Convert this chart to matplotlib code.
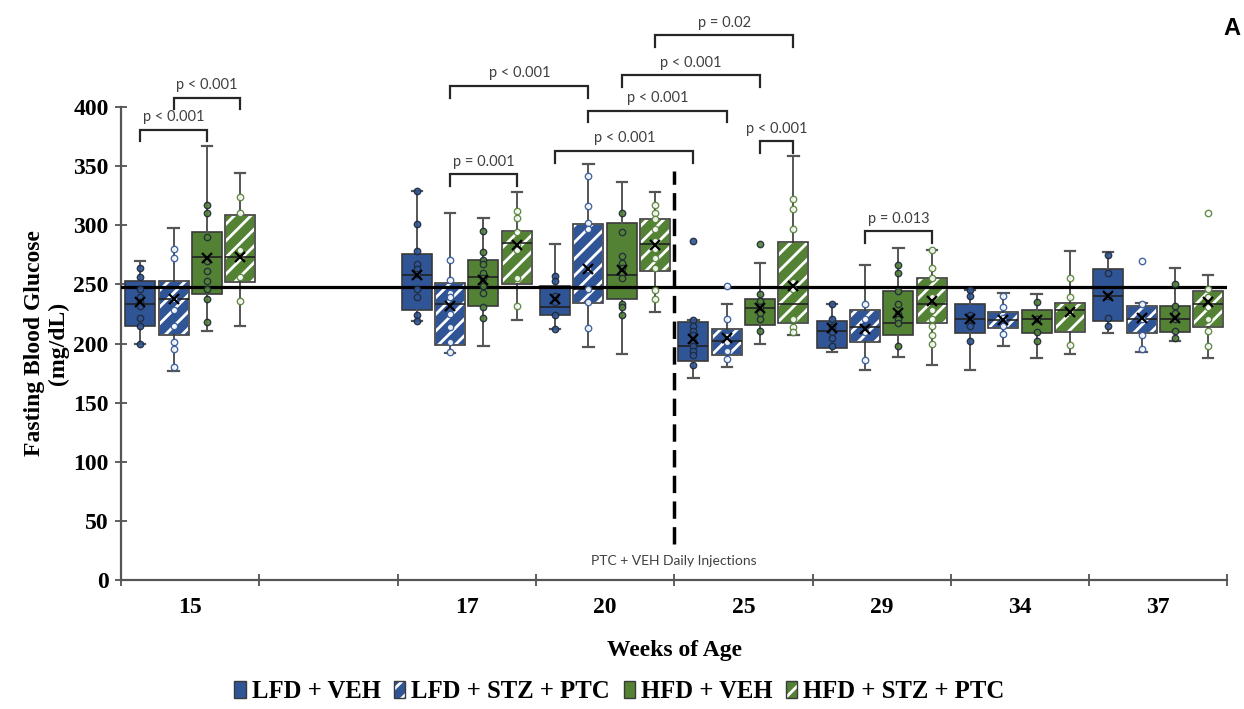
import numpy as np
import matplotlib
matplotlib.use("Agg")
import matplotlib.pyplot as plt
from matplotlib.patches import Patch, PathPatch

# ---- data (mg/dL) ----
weeks = [15, 17, 20, 25, 29, 34, 37]
week_pos = [0, 2, 3, 4, 5, 6, 7]          # an empty slot sits between 15 and 17
groups = ["LFD + VEH", "LFD + STZ + PTC", "HFD + VEH", "HFD + STZ + PTC"]
baseline = 248

# one row per group, one value per week
whislo = [[200, 219, 212, 171, 193, 178, 209],
          [177, 192, 197, 180, 178, 198, 193],
          [211, 198, 191, 200, 189, 188, 202],
          [215, 220, 227, 207, 182, 191, 188]]
q1 = [[215, 228, 224, 185, 196, 209, 219],
      [207, 199, 234, 190, 201, 213, 209],
      [242, 232, 238, 216, 207, 209, 210],
      [252, 250, 261, 217, 217, 210, 214]]
med = [[233, 258, 231, 198, 211, 221, 240],
       [238, 233, 246, 202, 214, 220, 221],
       [273, 256, 258, 230, 217, 221, 221],
       [273, 285, 284, 233, 233, 228, 233]]
q3 = [[253, 276, 249, 218, 219, 233, 263],
      [253, 251, 301, 212, 228, 227, 232],
      [294, 271, 302, 238, 244, 228, 232],
      [309, 295, 305, 286, 255, 234, 244]]
whishi = [[270, 329, 284, 220, 233, 245, 277],
          [298, 310, 352, 233, 266, 243, 234],
          [367, 306, 337, 268, 281, 242, 264],
          [344, 328, 328, 359, 279, 278, 258]]
means = [[235, 258, 238, 204, 213, 221, 240],
         [238, 232, 263, 205, 212, 220, 222],
         [272, 254, 262, 230, 226, 220, 222],
         [273, 283, 283, 249, 236, 227, 235]]

# individual animals, per week (outliers included)
pts_lfd_veh = [[264, 256, 246, 239, 235, 232, 222, 215, 200],
               [329, 301, 278, 267, 263, 259, 246, 239, 224, 219],
               [257, 253, 240, 235, 224, 212],
               [287, 220, 215, 211, 207, 202, 198, 194, 190, 182],
               [233, 221, 214, 210, 205, 198],
               [245, 240, 224, 221, 215, 202],
               [275, 260, 240, 222, 215]]
pts_lfd_stz = [[280, 272, 238, 228, 215, 201, 195, 180],
               [271, 254, 243, 239, 225, 214, 201, 193],
               [342, 316, 302, 297, 263, 246, 235, 213],
               [249, 221, 206, 201, 194, 187],
               [233, 221, 210, 186],
               [240, 231, 222, 215, 208],
               [270, 233, 221, 207, 195]]
pts_hfd_veh = [[317, 310, 290, 270, 261, 253, 246, 238, 218],
               [295, 277, 271, 267, 260, 255, 249, 243, 231, 222],
               [310, 294, 274, 268, 264, 260, 255, 233, 231, 224],
               [284, 242, 236, 231, 226, 221, 211],
               [266, 260, 244, 233, 225, 221, 217, 198],
               [235, 221, 210, 202],
               [250, 232, 226, 221, 211, 205]]
pts_hfd_stz = [[324, 310, 279, 256, 236],
               [312, 306, 294, 283, 279, 255, 232],
               [317, 310, 305, 297, 287, 280, 272, 264, 245, 238],
               [322, 314, 297, 252, 246, 221, 214, 210],
               [279, 264, 255, 239, 228, 221, 215, 207, 200],
               [255, 239, 227, 199],
               [310, 246, 239, 231, 221, 211, 198]]
points = [pts_lfd_veh, pts_lfd_stz, pts_hfd_veh, pts_hfd_stz]

# significance comparisons: (week a, group a, week b, group b, label)
comparisons = [(15, 0, 15, 2, "p < 0.001"),
               (15, 1, 15, 3, "p < 0.001"),
               (17, 1, 17, 3, "p = 0.001"),
               (17, 1, 20, 1, "p < 0.001"),
               (20, 0, 25, 0, "p < 0.001"),
               (20, 1, 25, 1, "p < 0.001"),
               (20, 2, 25, 2, "p < 0.001"),
               (20, 3, 25, 3, "p = 0.02"),
               (25, 2, 25, 3, "p < 0.001"),
               (29, 1, 29, 3, "p = 0.013")]
bracket_y = [381, 408, 343, 418, 363, 397, 427, 461, 371, 295]

# ---- style ----
blue = "#2F5597"
green = "#548235"
colors = [blue, blue, green, green]
hatched = [False, True, False, True]
edge = "#3a3a3a"
serif = "Liberation Serif"
sans = "Lato"
plt.rcParams["hatch.linewidth"] = 2.0

fig, ax = plt.subplots(figsize=(12.44, 7.09), dpi=100)
fig.subplots_adjust(left=0.0973, right=0.9867, bottom=0.182, top=0.849)

step = 0.241
bw = 0.217


def xpos(week, g):
    return week_pos[weeks.index(week)] + (g - 1.5) * step


for g in range(4):
    stats = []
    for w in range(len(weeks)):
        stats.append(dict(whislo=whislo[g][w], q1=q1[g][w], med=med[g][w],
                          q3=q3[g][w], whishi=whishi[g][w], mean=means[g][w],
                          fliers=[]))
    pos = [xpos(wk, g) for wk in weeks]
    art = ax.bxp(stats, positions=pos, widths=bw, capwidths=0.075,
                 patch_artist=True, showmeans=True, showfliers=False,
                 boxprops=dict(facecolor=colors[g], edgecolor=edge, linewidth=1.2),
                 medianprops=dict(color="#222222", linewidth=1.2, zorder=3.5),
                 whiskerprops=dict(color="#555555", linewidth=1.4),
                 capprops=dict(color="#555555", linewidth=1.6),
                 meanprops=dict(marker="x", markeredgecolor="black",
                                markersize=7, markeredgewidth=1.6, zorder=6))
    for box in art["boxes"]:
        if hatched[g]:
            box.set_edgecolor("white")
            box.set_hatch("//")
            ax.add_patch(PathPatch(box.get_path(), facecolor="none",
                                   edgecolor=edge, linewidth=1.2, zorder=3.2))
    for w in range(len(weeks)):
        vals = points[g][w]
        if hatched[g]:
            mfc, mec = "white", colors[g]
        else:
            mfc, mec = colors[g], "#1e2a3a"
        ax.plot([pos[w]] * len(vals), vals, "o", ms=4.6, mfc=mfc, mec=mec,
                mew=1.0, zorder=5, alpha=0.9)

# reference line and treatment start
ax.axhline(baseline, color="black", lw=2.3, zorder=4)
ax.plot([3.5, 3.5], [30, 346], color="black", lw=2.5,
        dashes=(5.0, 2.4), zorder=4)
ax.text(3.5, 16, "PTC + VEH Daily Injections", ha="center", va="center",
        fontsize=10, family=sans, color="#404040")

# significance brackets
for (wa, ga, wb, gb, lab), h in zip(comparisons, bracket_y):
    x1, x2 = xpos(wa, ga), xpos(wb, gb)
    ax.plot([x1, x1, x2, x2], [h - 10, h, h, h - 10], color="#262626",
            lw=1.6, clip_on=False, solid_joinstyle="miter")
    ax.text((x1 + x2) / 2, h + 10.5, lab, ha="center", va="center",
            fontsize=10.5, family=sans, color="#404040")

# axes
ax.set_ylim(0, 400)
ax.set_xlim(-0.5, 7.5)
ax.set_yticks(np.arange(0, 401, 50))
ax.set_xticks(np.arange(-0.5, 8, 1))
ax.set_xticklabels([])
ax.set_xticks(week_pos, minor=True)
ax.set_xticklabels([str(w) for w in weeks], minor=True)
ax.tick_params(axis="x", which="major", direction="inout", length=9,
               width=1.2, color="#444444")
ax.tick_params(axis="x", which="minor", length=0, pad=12)
ax.tick_params(axis="y", direction="inout", length=8, width=1.2,
               color="#444444", pad=5)
for lab in ax.get_xticklabels(minor=True) + ax.get_yticklabels():
    lab.set_fontfamily(serif)
    lab.set_fontweight("bold")
    lab.set_fontsize(17)
for s in ["top", "right"]:
    ax.spines[s].set_visible(False)
for s in ["left", "bottom"]:
    ax.spines[s].set_color("#555555")
    ax.spines[s].set_linewidth(1.6)

ax.set_ylabel("Fasting Blood Glucose\n(mg/dL)", fontsize=17, fontweight="bold",
              family=serif, linespacing=1.15)
ax.yaxis.set_label_coords(-0.047, 0.5)
ax.set_xlabel("Weeks of Age", fontsize=17, fontweight="bold", family=serif)
ax.xaxis.set_label_coords(0.5, -0.128)

# legend
handles = []
for g in range(4):
    if hatched[g]:
        handles.append((Patch(facecolor=colors[g], edgecolor="white", hatch="//", lw=0),
                        Patch(facecolor="none", edgecolor=edge, lw=1)))
    else:
        handles.append(Patch(facecolor=colors[g], edgecolor=edge, lw=1))
fig.legend(handles, groups, loc="center", bbox_to_anchor=(0.498, 0.024), ncol=4,
           frameon=False, handlelength=0.45, handleheight=0.7,
           handletextpad=0.25, columnspacing=0.55,
           prop=dict(family=serif, weight="bold", size=17.8))

fig.text(0.997, 0.96, "A", ha="right", va="center", fontsize=17,
         fontweight="bold", family="Liberation Sans")

fig.savefig("out.png", dpi=100)
